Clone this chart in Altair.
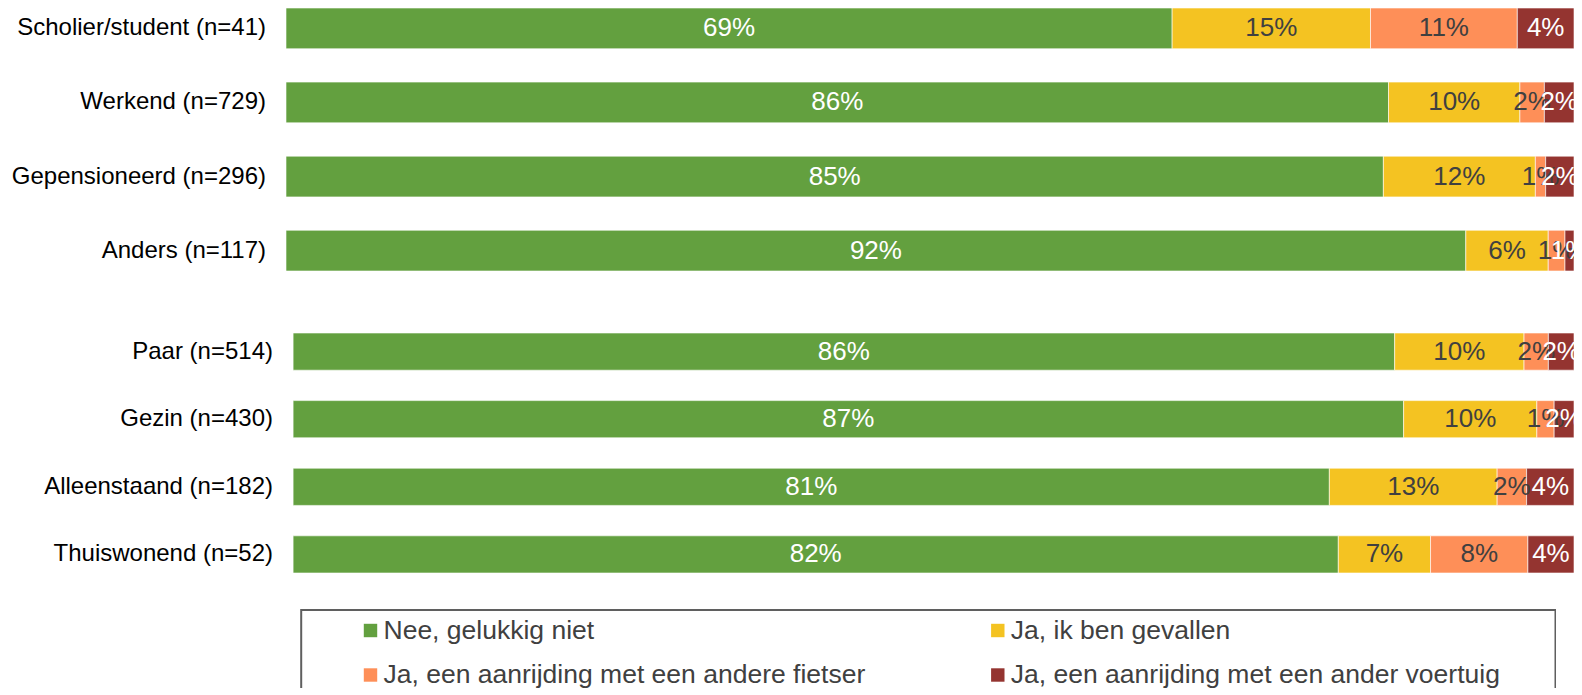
import altair as alt
import pandas as pd

FONT = "Liberation Sans"

# ---- data ----
answers = [
    "Nee, gelukkig niet",
    "Ja, ik ben gevallen",
    "Ja, een aanrijding met een andere fietser",
    "Ja, een aanrijding met een ander voertuig",
]
colors = ["#63A03F", "#F4C322", "#FE8F58", "#943430"]
text_colors = ["#FFFFFF", "#404040", "#404040", "#FFFFFF"]

categories_top = [
    "Scholier/student (n=41)",
    "Werkend (n=729)",
    "Gepensioneerd (n=296)",
    "Anders (n=117)",
]
nee_top = [68.8, 85.6, 85.2, 91.6]
gevallen_top = [15.4, 10.2, 11.8, 6.4]
fietser_top = [11.4, 1.9, 0.8, 1.3]
voertuig_top = [4.4, 2.3, 2.2, 0.7]

categories_bottom = [
    "Paar (n=514)",
    "Gezin (n=430)",
    "Alleenstaand (n=182)",
    "Thuiswonend (n=52)",
]
nee_bottom = [86.0, 86.7, 80.9, 81.6]
gevallen_bottom = [10.1, 10.4, 13.1, 7.2]
fietser_bottom = [1.9, 1.35, 2.3, 7.6]
voertuig_bottom = [2.0, 1.55, 3.7, 3.6]

legend_col = [0, 1, 0, 1]
legend_row = [0, 0, 1, 1]


def build_frame(cats, series):
    rows = []
    for i, cat in enumerate(cats):
        start = 0.0
        for j, ans in enumerate(answers):
            v = series[j][i]
            rows.append(
                dict(
                    cat=cat,
                    answer=ans,
                    start=start,
                    end=start + v,
                    mid=start + v / 2,
                    label=f"{round(v)}%",
                )
            )
            start += v
    return pd.DataFrame(rows)


def make_group(cats, series, x_range, width, height, label_pad):
    df = build_frame(cats, series)
    y = alt.Y(
        "cat:N",
        sort=cats,
        scale=alt.Scale(paddingInner=0.45, paddingOuter=0),
        axis=alt.Axis(
            title="",
            labelFontSize=24,
            labelColor="#000000",
            labelFont=FONT,
            labelPadding=label_pad,
            ticks=False,
            domain=False,
            minExtent=277.5,
            maxExtent=277.5,
            labelLimit=400,
        ),
    )
    xscale = alt.Scale(domain=[0, 100], range=x_range, nice=False, zero=False)
    bars = (
        alt.Chart(df)
        .mark_bar(stroke="#FFFFFF", strokeWidth=0.6, clip=True)
        .encode(
            x=alt.X("start:Q", scale=xscale, axis=None),
            x2="end:Q",
            y=y,
            color=alt.Color(
                "answer:N", scale=alt.Scale(domain=answers, range=colors), legend=None
            ),
        )
    )
    text = (
        alt.Chart(df)
        .mark_text(fontSize=26, font=FONT, align="center", baseline="middle", clip=True)
        .encode(
            x=alt.X("mid:Q", scale=xscale, axis=None),
            y=y,
            text="label:N",
            color=alt.Color(
                "answer:N",
                scale=alt.Scale(domain=answers, range=text_colors),
                legend=None,
            ),
        )
    )
    return (
        alt.layer(bars, text)
        .resolve_scale(color="independent")
        .properties(width=width, height=height)
    )


top = make_group(
    categories_top,
    [nee_top, gevallen_top, fietser_top, voertuig_top],
    [0, 1288],
    1288,
    263,
    20.5,
)
bottom = make_group(
    categories_bottom,
    [nee_bottom, gevallen_bottom, fietser_bottom, voertuig_bottom],
    [7.1, 1288],
    1288,
    240,
    13.5,
)

# ---- legend ----
leg_df = pd.DataFrame({"answer": answers, "col": legend_col, "row": legend_row})
lx = alt.Scale(domain=[0, 1], range=[84.5, 711.8])
ly = alt.Scale(domain=[0, 1], range=[21.5, 66])
LEG_H = 79

frame = (
    alt.Chart(pd.DataFrame({"k": [0]}))
    .mark_rect(fillOpacity=0, stroke="#5F5F5F", strokeWidth=2, clip=True)
    .encode(
        x=alt.value(15.2),
        x2=alt.value(1269.5),
        y=alt.value(1),
        y2=alt.value(LEG_H + 10),
    )
)
squares = (
    alt.Chart(leg_df)
    .mark_square(size=180, opacity=1)
    .encode(
        x=alt.X("col:Q", scale=lx, axis=None),
        y=alt.Y("row:Q", scale=ly, axis=None),
        color=alt.Color(
            "answer:N", scale=alt.Scale(domain=answers, range=colors), legend=None
        ),
    )
)
labels = (
    alt.Chart(leg_df)
    .mark_text(
        align="left",
        baseline="middle",
        dx=13,
        fontSize=26.5,
        font=FONT,
        color="#404040",
        clip=True,
    )
    .encode(
        x=alt.X("col:Q", scale=lx, axis=None),
        y=alt.Y("row:Q", scale=ly, axis=None),
        text="answer:N",
    )
)
legend = alt.layer(frame, squares, labels).properties(width=1270, height=LEG_H)

chart = (
    alt.vconcat(alt.vconcat(top, bottom, spacing=62), legend, spacing=36)
    .resolve_scale(color="independent")
    .properties(padding=0, background="#FFFFFF")
    .configure_view(stroke="transparent", strokeWidth=0)
)

chart.save("out.html", embed_options={"renderer": "svg", "actions": False})
